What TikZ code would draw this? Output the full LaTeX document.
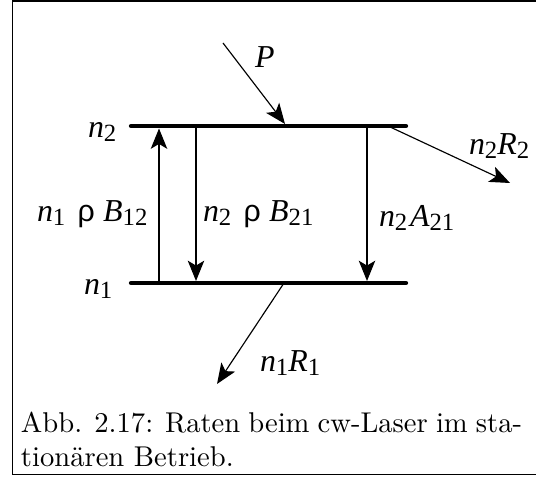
\documentclass[tikz,border=0pt]{standalone}
\usepackage{fontspec}
\newfontfamily\lab{Liberation Serif}
\newfontfamily\rhofont{Liberation Sans}
\usetikzlibrary{arrows.meta}
\newcommand{\sbx}[1]{\raisebox{-1.4pt}{\fontsize{9}{10}\selectfont #1}}
\newcommand{\rh}{{\rhofont\fontsize{11}{12}\selectfont ρ}}
\begin{document}
\begin{tikzpicture}[x=0.3636pt,y=-0.3636pt,
  lbl/.style={anchor=base west, inner sep=0pt, outer sep=0pt, font=\fontsize{11.6}{13}\selectfont\lab},
  captext/.style={anchor=base west, inner sep=0pt, outer sep=0pt, font=\fontsize{10.4}{12.5}\selectfont},
  levelline/.style={line width=1.56pt, line cap=round},
  frameline/.style={line width=0.55pt},
  arr/.style={line width=0.42pt, -{Stealth[length=7.4pt,width=6pt,inset=1.8pt]}}]
\useasboundingbox (0,0) rectangle (536,479);
% frame (right edge outside the picture)
\draw[frameline] (560,1) -- (12.5,1) -- (12.5,474.5) -- (560,474.5);
% levels
\coordinate (u1) at (131,126);
\coordinate (u2) at (406,126);
\coordinate (l1) at (131,283);
\coordinate (l2) at (406,283);
\draw[levelline] (u1) -- (u2);
\draw[levelline] (l1) -- (l2);
% transition arrows
\coordinate (a1s) at (159,283);
\coordinate (a1e) at (159,128.5);
\coordinate (a2s) at (196,126);
\coordinate (a2e) at (196,281);
\coordinate (a3s) at (367,126);
\coordinate (a3e) at (367,281);
\draw[arr] (a1s) -- (a1e);
\draw[arr] (a2s) -- (a2e);
\draw[arr] (a3s) -- (a3e);
% pump and loss arrows
\coordinate (ps) at (223,43);
\coordinate (pe) at (285,124);
\coordinate (r2s) at (388,126);
\coordinate (r2e) at (510,183);
\coordinate (r1s) at (284,283);
\coordinate (r1e) at (217,384);
\draw[arr] (ps) -- (pe);
\draw[arr] (r2s) -- (r2e);
\draw[arr] (r1s) -- (r1e);
% labels
\node[lbl] (lp) at (255,68) {\itshape P};
\node[lbl] (ln2) at (88,138) {{\itshape n}\sbx{2}};
\node[lbl] (ln1) at (84,295) {{\itshape n}\sbx{1}};
\node[lbl] (lr2) at (469,155) {{\itshape n}\sbx{2}{\itshape R}\sbx{2}};
\node[lbl] (lr1) at (260,372) {{\itshape n}\sbx{1}{\itshape R}\sbx{1}};
\node[lbl] (lb12) at (37,222) {{\itshape n}\sbx{1}\hspace{4.5pt}\rh\hspace{3pt}{\itshape B}\sbx{12}};
\node[lbl] (lb21) at (203,222) {{\itshape n}\sbx{2}\hspace{4.5pt}\rh\hspace{3pt}{\itshape B}\sbx{21}};
\node[lbl] (la21) at (379,227) {{\itshape n}\sbx{2}\hspace{1pt}{\itshape A}\sbx{21}};
% caption
\node[captext] (cap1) at (21,433) {\makebox[182.2pt][s]{Abb. 2.17: Raten beim cw-Laser im sta-}};
\node[captext] (cap2) at (21,467) {tionären Betrieb.};
\end{tikzpicture}
\end{document}
